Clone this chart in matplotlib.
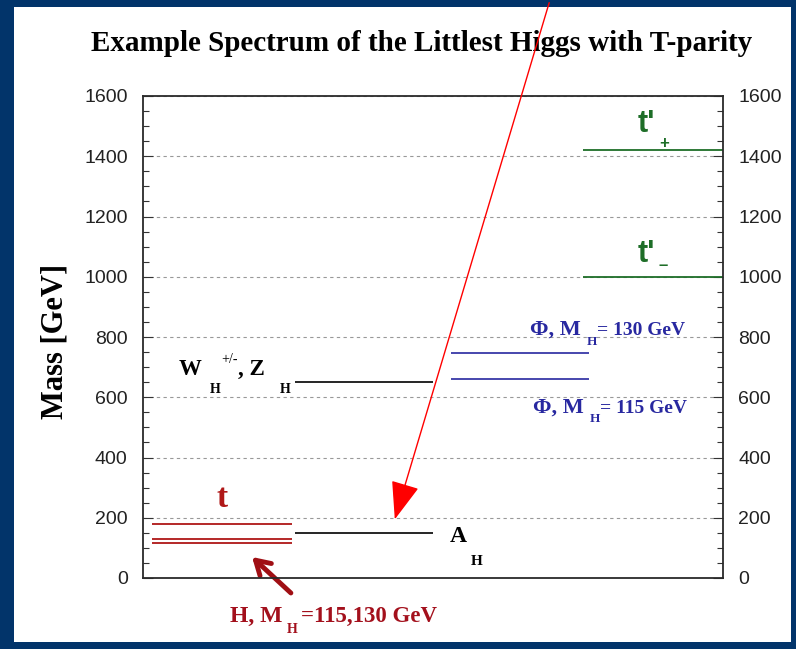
import matplotlib.pyplot as plt
from matplotlib.patches import Rectangle, FancyArrowPatch

# masses in GeV
top_mass = [178]
higgs_masses = [115, 130]
ah_mass = [150]
heavy_gauge_mass = [650]      # W_H, Z_H
phi_masses = [661, 747]       # M_H = 115, 130 GeV
tprime_masses = [1000, 1420]  # t'_-, t'_+

y_ticks = [0, 200, 400, 600, 800, 1000, 1200, 1400, 1600]

# horizontal extent of each column (x runs 0..4 across the frame)
col_sm = (0.062, 1.028)
col_gauge = (1.048, 2.0)
col_phi = (2.124, 3.076)
col_tp = (3.034, 4.0)

red = "#b42828"
dred = "#a3101c"
blue = "#2828a0"
green = "#1e6e28"
serif = "Liberation Serif"
sans = "Liberation Sans"

fig = plt.figure(figsize=(7.96, 6.49), dpi=100)
fig.patch.set_facecolor("#02346a")
fig.add_artist(Rectangle((14 / 796, 1 - 642 / 649), 777 / 796, 635 / 649,
                         transform=fig.transFigure, facecolor="white",
                         edgecolor="none", zorder=0))

ax = fig.add_axes([143 / 796, 1 - 578 / 649, 580 / 796, 482 / 649])
ax.set_xlim(0, 4)
ax.set_ylim(0, 1600)
ax.set_axisbelow(True)

# levels
ax.hlines(top_mass + higgs_masses, *col_sm, colors=red, lw=1.4)
ax.hlines(ah_mass + heavy_gauge_mass, *col_gauge, colors="black", lw=1.2)
ax.hlines(phi_masses, *col_phi, colors=blue, lw=1.2)
ax.hlines(tprime_masses, *col_tp, colors=green, lw=1.3)

# axes styling
ax.set_xticks([])
ax.set_yticks(y_ticks)
ax.set_yticks(range(0, 1601, 50), minor=True)
ax.yaxis.grid(True, which="major", color="#999999", ls=(0, (3, 3)), lw=0.8)
ax.tick_params(axis="y", which="both", direction="in", left=True, right=True,
               labelleft=True, labelright=True, color="#333333")
ax.tick_params(axis="y", which="major", length=7, width=0.8, pad=11,
               labelsize=14, labelcolor="#222222")
ax.tick_params(axis="y", which="minor", length=4, width=0.8)
for lab in ax.get_yticklabels():
    lab.set_family(sans)
for sp in ax.spines.values():
    sp.set_color("#2a2a2a")
    sp.set_linewidth(1.3)
    sp.set_zorder(5)

# labels
fig.text(0.530, 1 - 51 / 649, "Example Spectrum of the Littlest Higgs with T-parity",
         ha="center", va="baseline", family=serif, weight="bold", fontsize=21)
fig.text(55 / 796, 1 - 341 / 649, "Mass [GeV]", rotation=90, ha="center",
         va="center", family=serif, weight="bold", fontsize=22)

kw = dict(va="baseline", family=serif, weight="bold")
ax.text(0.545, 236, "t", ha="center", color="#b01818", fontsize=24, **kw)

ax.text(0.248, 674, "W", fontsize=16.5, **kw)
ax.text(0.462, 614, "H", fontsize=10, **kw)
ax.text(0.538, 714, "+/-", fontsize=10, va="baseline", family=serif)
ax.text(0.655, 674, ", Z", fontsize=16.5, **kw)
ax.text(0.945, 614, "H", fontsize=10, **kw)

ax.text(2.117, 120, "A", fontsize=17, **kw)
ax.text(2.262, 43, "H", fontsize=11, **kw)

ax.text(2.669, 807, "Φ, M", color=blue, fontsize=16, **kw)
ax.text(3.062, 773, "H", color=blue, fontsize=9.5, **kw)
ax.text(3.131, 807, "= 130 GeV", color=blue, fontsize=14, **kw)
ax.text(2.690, 548, "Φ, M", color=blue, fontsize=16, **kw)
ax.text(3.083, 518, "H", color=blue, fontsize=9.5, **kw)
ax.text(3.152, 548, "= 115 GeV", color=blue, fontsize=14, **kw)

ax.text(3.414, 1480, "t'", color=green, fontsize=22, va="baseline", family=sans, weight="bold")
ax.text(3.559, 1427, "+", color=green, fontsize=12, va="baseline", family=sans, weight="bold")
ax.text(3.414, 1049, "t'", color=green, fontsize=22, va="baseline", family=sans, weight="bold")
ax.text(3.552, 1022, "–", color=green, fontsize=12, va="baseline", family=sans, weight="bold")

ax.text(0.600, -146, "H, M", color=dred, fontsize=17, **kw)
ax.text(0.993, -182, "H", color=dred, fontsize=10, **kw)
ax.text(1.090, -146, "=115,130 GeV", color=dred, fontsize=16.5, **kw)

ax.annotate("", xy=(0.738, 76), xytext=(1.034, -56), annotation_clip=False,
            arrowprops=dict(arrowstyle="->,head_length=1.0,head_width=0.6",
                            color="#a00f14", lw=3.5))

# red pointer drawn over the whole slide
fig.add_artist(FancyArrowPatch((550 / 796, 1.0), (394 / 796, 1 - 522 / 649),
                               transform=fig.transFigure, color="red", lw=1,
                               arrowstyle="-|>,head_length=2.4,head_width=0.9",
                               mutation_scale=10, zorder=10))

fig.savefig("out.png", dpi=100, facecolor=fig.get_facecolor())
